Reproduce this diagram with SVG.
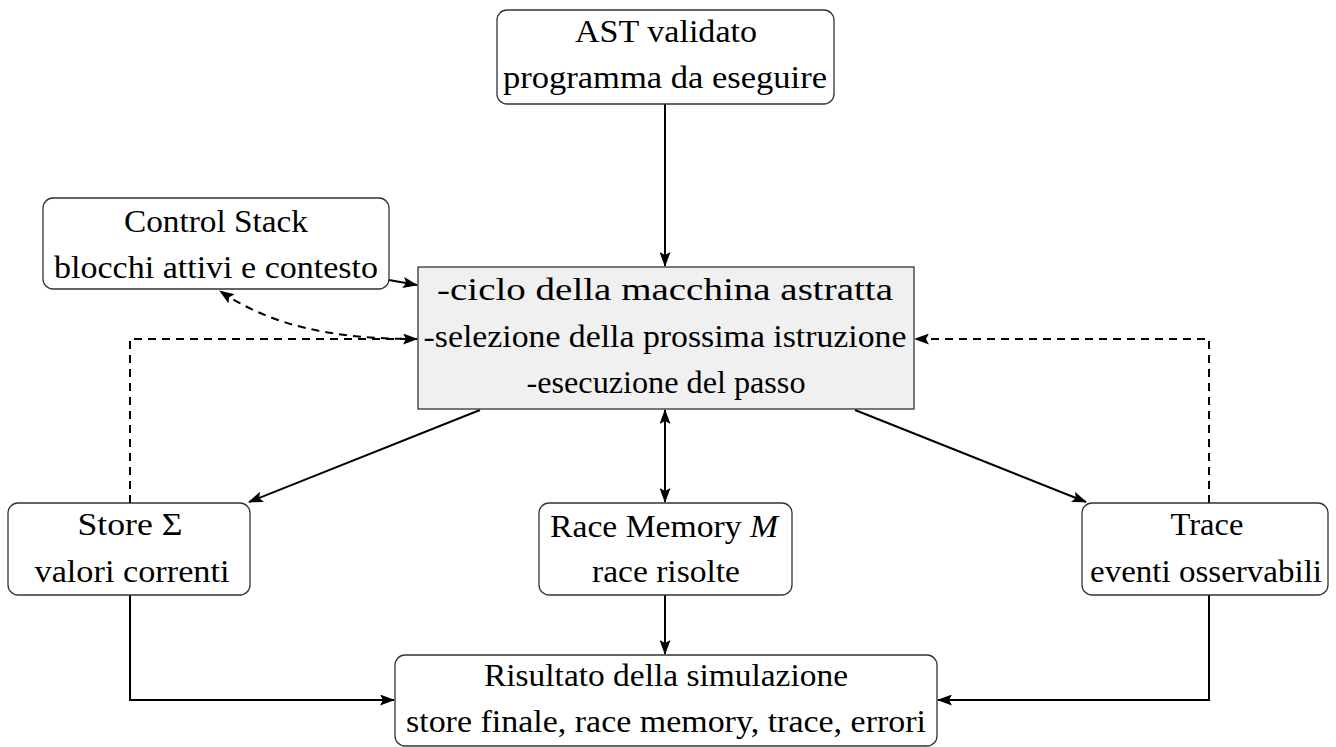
<svg xmlns="http://www.w3.org/2000/svg" width="1336" height="747" viewBox="0 0 1336 747">
  <style>
    .box { fill: #ffffff; stroke: #333333; stroke-width: 1.3; }
    .core { fill: #f0f0f0; stroke: #333333; stroke-width: 1.3; }
    .lbl { font-family: "Liberation Serif", "DejaVu Serif", serif; font-size: 32px; fill: #000000; text-anchor: middle; }
    .edge { fill: none; stroke: #000000; stroke-width: 2; }
    .dash { stroke-dasharray: 8 6; }
  </style>
  <defs>
    <marker id="arrow" viewBox="0 0 15 11" refX="14" refY="5.5" markerWidth="15" markerHeight="11" markerUnits="userSpaceOnUse" orient="auto-start-reverse">
      <path d="M0,0 L15,5.5 L0,11 L3,5.5 z" fill="#000000"/>
    </marker>
  </defs>

  <!-- connectors -->
  <g id="connectors">
    <path class="edge" d="M665,104 V266" marker-end="url(#arrow)"/>
    <path class="edge" d="M389,280 L417,285" marker-end="url(#arrow)"/>
    <path class="edge dash" d="M417,339 C330,339 270,325 220,291" marker-end="url(#arrow)"/>
    <path class="edge dash" d="M130,503 V339 H417" marker-end="url(#arrow)"/>
    <path class="edge dash" d="M1209,503 V339 H915" marker-end="url(#arrow)"/>
    <path class="edge" d="M480,410 L249,502" marker-end="url(#arrow)"/>
    <path class="edge" d="M855,410 L1086,502" marker-end="url(#arrow)"/>
    <path class="edge" d="M665,410 V502" marker-start="url(#arrow)" marker-end="url(#arrow)"/>
    <path class="edge" d="M130,595 V700 H394" marker-end="url(#arrow)"/>
    <path class="edge" d="M665,595 V654" marker-end="url(#arrow)"/>
    <path class="edge" d="M1209,595 V700 H938" marker-end="url(#arrow)"/>
  </g>

  <g id="ast">
    <rect class="box" x="497" y="10" width="337" height="94" rx="10"/>
    <text class="lbl" x="666" y="42" textLength="182" lengthAdjust="spacingAndGlyphs">AST validato</text>
    <text class="lbl" x="665" y="88" textLength="324" lengthAdjust="spacingAndGlyphs">programma da eseguire</text>
  </g>

  <g id="control-stack">
    <rect class="box" x="43" y="198" width="346" height="91" rx="10"/>
    <text class="lbl" x="216" y="232" textLength="184" lengthAdjust="spacingAndGlyphs">Control Stack</text>
    <text class="lbl" x="216" y="278" textLength="324" lengthAdjust="spacingAndGlyphs">blocchi attivi e contesto</text>
  </g>

  <g id="machine">
    <rect class="core" x="418" y="267" width="496" height="142"/>
    <text class="lbl" x="665" y="300" textLength="456" lengthAdjust="spacingAndGlyphs">-ciclo della macchina astratta</text>
    <text class="lbl" x="665" y="347" textLength="483" lengthAdjust="spacingAndGlyphs">-selezione della prossima istruzione</text>
    <text class="lbl" x="666" y="393" textLength="279" lengthAdjust="spacingAndGlyphs">-esecuzione del passo</text>
  </g>

  <g id="store">
    <rect class="box" x="8" y="503" width="242" height="92" rx="10"/>
    <text class="lbl" x="130" y="535" textLength="105" lengthAdjust="spacingAndGlyphs">Store Σ</text>
    <text class="lbl" x="132" y="582" textLength="195" lengthAdjust="spacingAndGlyphs">valori correnti</text>
  </g>

  <g id="race-memory">
    <rect class="box" x="539" y="503" width="253" height="92" rx="10"/>
    <text class="lbl" x="664" y="537" textLength="228" lengthAdjust="spacingAndGlyphs">Race Memory <tspan font-style="italic">M</tspan></text>
    <text class="lbl" x="666" y="582" textLength="148" lengthAdjust="spacingAndGlyphs">race risolte</text>
  </g>

  <g id="trace">
    <rect class="box" x="1082" y="503" width="246" height="92" rx="10"/>
    <text class="lbl" x="1207" y="535" textLength="73" lengthAdjust="spacingAndGlyphs">Trace</text>
    <text class="lbl" x="1206" y="582" textLength="232" lengthAdjust="spacingAndGlyphs">eventi osservabili</text>
  </g>

  <g id="result">
    <rect class="box" x="395" y="655" width="542" height="91" rx="10"/>
    <text class="lbl" x="666" y="686" textLength="364" lengthAdjust="spacingAndGlyphs">Risultato della simulazione</text>
    <text class="lbl" x="666" y="732" textLength="520" lengthAdjust="spacingAndGlyphs">store finale, race memory, trace, errori</text>
  </g>
</svg>
